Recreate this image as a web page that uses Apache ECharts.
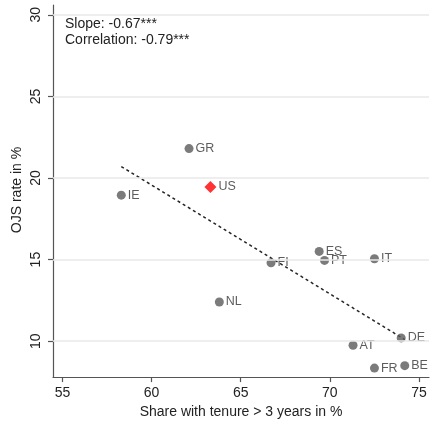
<!DOCTYPE html>
<html><head><meta charset="utf-8">
<script src="https://cdn.jsdelivr.net/npm/echarts@6/dist/echarts.min.js"></script>
<style>html,body{margin:0;padding:0;background:#fff}#c{width:431px;height:424px}</style>
</head><body><div id="c"></div>
<script>
const countries = ['IE','GR','FI','ES','PT','IT','NL','DE','AT','FR','BE'];
const tenure = [58.3, 62.1, 66.7, 69.4, 69.7, 72.5, 63.8, 74.0, 71.3, 72.5, 74.2];
const ojs = [18.95, 21.8, 14.8, 15.5, 14.95, 15.05, 12.4, 10.2, 9.75, 8.35, 8.5];
const usTenure = [63.3];
const usOjs = [19.45];
const fitX = [58.3, 74.2];
const fitY = [20.7, 10.1];
const xTicks = [55, 60, 65, 70, 75];
const yTicks = [10, 15, 20, 25, 30];
const annot = ['Slope: -0.67***', 'Correlation: -0.79***'];

const font = 'Liberation Sans, Arial, Helvetica, sans-serif';
const chart = echarts.init(document.getElementById('c'), null, {renderer: 'canvas'});
chart.setOption({
  animation: false,
  grid: {left: 53, right: 2, top: 5, bottom: 42, containLabel: false},
  xAxis: {
    type: 'value', min: 54.47, max: 75.56,
    name: 'Share with tenure > 3 years in %', nameLocation: 'middle', nameGap: 26,
    nameTextStyle: {fontFamily: font, fontSize: 14, color: '#222'},
    axisLine: {lineStyle: {color: '#555', width: 1.2}},
    axisTick: {show: true, length: 5, customValues: xTicks, lineStyle: {color: '#555', width: 1.2}},
    axisLabel: {customValues: xTicks, fontFamily: font, fontSize: 14, color: '#222', margin: 9},
    splitLine: {show: false}
  },
  yAxis: {
    type: 'value', min: 7.8, max: 30.6,
    axisLine: {show: true, lineStyle: {color: '#555', width: 1.2}},
    axisTick: {show: true, length: 5, customValues: yTicks, lineStyle: {color: '#555', width: 1.2}},
    axisLabel: {customValues: yTicks, rotate: 90, fontFamily: font, fontSize: 14, color: '#222', margin: 10},
    splitLine: {show: false}
  },
  series: [
    {
      type: 'scatter', silent: true, z: 1, data: [],
      markLine: {
        silent: true, symbol: 'none', label: {show: false},
        lineStyle: {color: '#e8e8e8', width: 1.5, type: 'solid'},
        data: yTicks.map(v => ({yAxis: v}))
      }
    },
    {
      type: 'line', symbol: 'none', z: 2,
      data: fitX.map((x, i) => [x, fitY[i]]),
      lineStyle: {color: '#222', width: 1.5, type: [3, 3]}
    },
    {
      type: 'scatter', z: 3, symbol: 'circle', symbolSize: 9,
      itemStyle: {color: '#5a5a5a'},
      data: tenure.map((x, i) => ({value: [x, ojs[i]], name: countries[i]})),
      label: {show: true, position: 'right', distance: 2, formatter: p => p.name,
        fontFamily: font, fontSize: 12.5, color: '#333'}
    },
    {
      type: 'scatter', z: 4, symbol: 'diamond', symbolSize: [12, 12],
      itemStyle: {color: '#ff0000'},
      data: usTenure.map((x, i) => ({value: [x, usOjs[i]], name: 'US'})),
      label: {show: true, position: 'right', distance: 2, formatter: p => p.name,
        fontFamily: font, fontSize: 12.5, color: '#333'}
    }
  ],
  graphic: [
    {type: 'text', left: 65, top: 16, style: {text: annot.join('\n'), fontFamily: font, fontSize: 14, lineHeight: 16, fill: '#222'}},
    {type: 'text', x: 17, y: 190, rotation: Math.PI / 2, style: {text: 'OJS rate in %', fontFamily: font, fontSize: 14, fill: '#222', align: 'center', verticalAlign: 'middle'}}
  ]
});
</script></body></html>
